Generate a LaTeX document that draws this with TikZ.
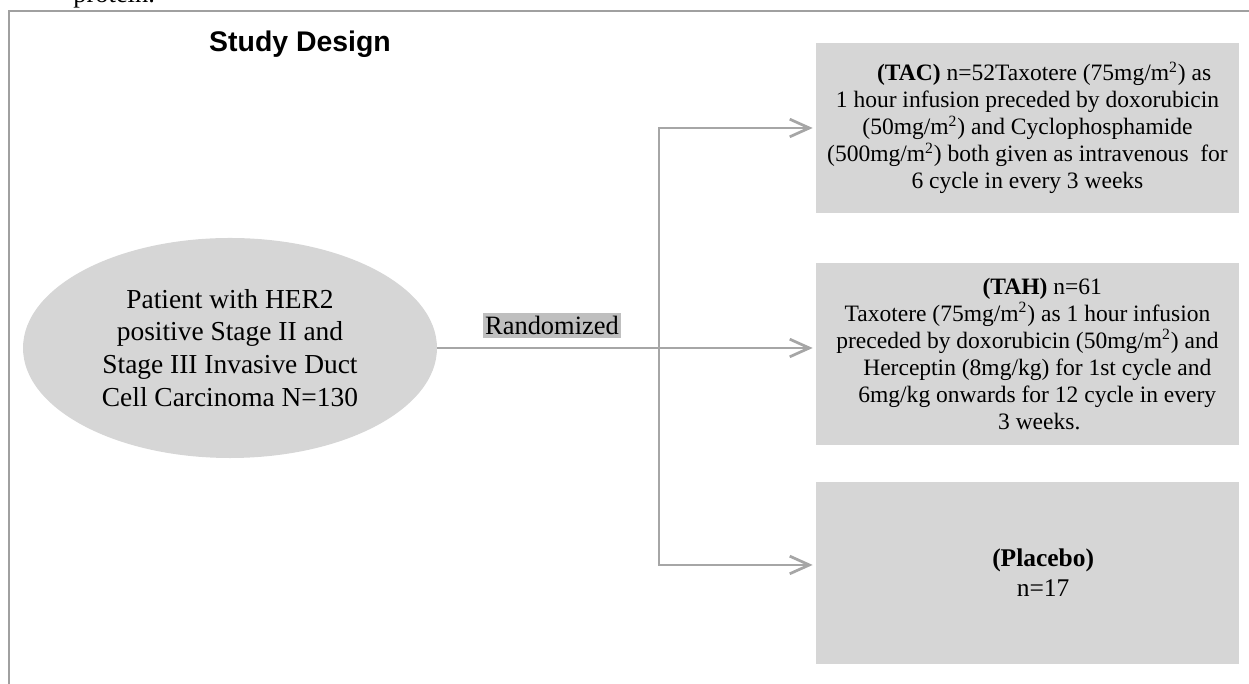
\documentclass[tikz,border=0pt]{standalone}
\usepackage{fontspec}
\setmainfont{Liberation Serif}
\newfontfamily\headfont{Liberation Sans}
\usetikzlibrary{arrows.meta,shapes.geometric}
\definecolor{boxgray}{RGB}{214,214,214}
\definecolor{linegray}{RGB}{166,166,166}
\definecolor{hlgray}{RGB}{191,191,191}
\definecolor{framegray}{RGB}{160,160,160}
\begin{document}
\begin{tikzpicture}[x=0.5104pt,y=-0.5104pt,
  armbox/.style={rectangle, fill=boxgray, minimum width=215.9pt, inner sep=0pt,
    align=center, font=\fontsize{12}{13.8}\selectfont},
  conn/.style={draw=linegray, line width=1.4pt},
  arr/.style={conn, -{Straight Barb[length=10pt,width=9pt]}, shorten >=1.5pt}]
\useasboundingbox (0,0) rectangle (1249,684);
% frame
\draw[framegray, line width=0.7pt] (9,684) -- (9,11) -- (1249,11);
% cut text at top
\node[anchor=base west, inner sep=0pt, font=\fontsize{13.5}{16}\selectfont] (prot) at (73,3) {protein.};
% title
\node[anchor=base, inner sep=0pt, font=\headfont\bfseries\fontsize{14.5}{17}\selectfont] (title) at (300,52) {Study Design};
% patient ellipse
\node[ellipse, fill=boxgray, minimum width=211.3pt, minimum height=112.3pt, inner sep=0pt,
  align=center, font=\fontsize{14}{16.8}\selectfont] (ell) at (230,348)
  {Patient with HER2\\positive Stage II and\\Stage III Invasive Duct\\Cell Carcinoma N=130};
% arm boxes
\node[armbox, minimum height=86.8pt] (tac) at (1027.5,128)
  {\hspace*{17pt}\textbf{(TAC)} n=52Taxotere (75mg/m\textsuperscript{2}) as\\
   1 hour infusion preceded by doxorubicin\\
   (50mg/m\textsuperscript{2}) and Cyclophosphamide\\
   (500mg/m\textsuperscript{2}) both given as intravenous\ \ for\\
   6 cycle in every 3 weeks};
\node[armbox, minimum height=92.9pt] (tah) at (1027.5,354)
  {\hspace*{15pt}\textbf{(TAH)} n=61\\
   Taxotere (75mg/m\textsuperscript{2}) as 1 hour infusion\\
   preceded by doxorubicin (50mg/m\textsuperscript{2}) and\\
   \hspace*{10pt}Herceptin (8mg/kg) for 1st cycle and\\
   \hspace*{10pt}6mg/kg onwards for 12 cycle in every\\
   \hspace*{12pt}3 weeks.};
\node[armbox, minimum height=92.9pt, font=\fontsize{13}{15.3}\selectfont] (plc) at (1027.5,573)
  {\hspace*{16pt}\textbf{(Placebo)}\\\hspace*{16pt}n=17};
% label
\node[fill=hlgray, inner xsep=1pt, inner ysep=1.5pt, font=\fontsize{13.5}{16}\selectfont] (rand) at (552,325.5) {Randomized};
% connectors
\coordinate (split) at (659,348);
\draw[arr] (ell.east) -- (ell.east -| tah.west);
\draw[arr] (split) |- (tac.west);
\draw[arr] (split) |- ([yshift=4.1pt]plc.west);
\end{tikzpicture}
\end{document}
